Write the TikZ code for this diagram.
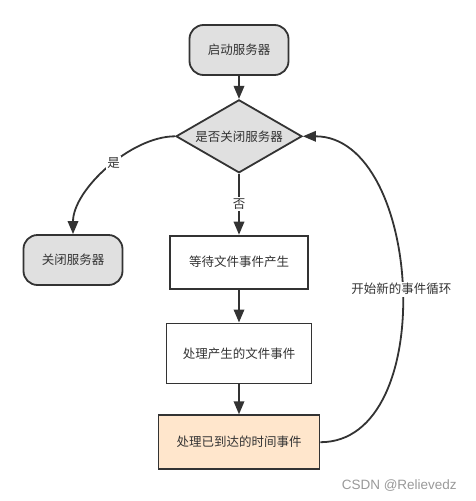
\documentclass[tikz,border=0pt]{standalone}
\usepackage{fontspec}
\newfontfamily\cjk{Noto Sans CJK SC}
\newfontfamily\marksans{Liberation Sans}
\usetikzlibrary{arrows.meta,shapes.geometric,positioning}
\definecolor{linegray}{HTML}{333333}
\definecolor{boxgray}{HTML}{E0E0E0}
\definecolor{boxpeach}{HTML}{FFE6CC}

\begin{document}
\begin{tikzpicture}[x=1pt, y=-1pt, >={Triangle[width=10.5pt,length=13pt]},
                    line width=1.8pt, color=linegray,
                    font=\cjk\fontsize{12.5}{14}\selectfont]
  \tikzstyle{term}=[rectangle, rounded corners=14pt, draw, fill=boxgray,
                    minimum width=99pt, minimum height=50pt]
  \tikzstyle{proc}=[rectangle, draw, fill=white]
  \tikzstyle{check}=[diamond, draw, fill=boxgray, aspect=1.7, inner sep=0pt,
                     minimum width=126pt, minimum height=73pt]
  \tikzstyle{tag}=[fill=white, inner sep=1.5pt]

  \useasboundingbox (0,0) rectangle (476,501);

	\node[term]	(start)	at (239,50)					{启动服务器};
	\node[check]	(ask)	[below=23pt of start]			{是否关闭服务器};
	\node[proc, minimum width=138pt, minimum height=53pt]
				(wait)	[below=61pt of ask]			{等待文件事件产生};
	\node[proc, minimum width=145pt, minimum height=60pt]
				(file)	[below=33pt of wait]			{处理产生的文件事件};
	\node[proc, fill=boxpeach, minimum width=161pt, minimum height=54pt]
				(timer)	[below=30pt of file]			{处理已到达的时间事件};
	\node[term]	(stop)	at (73,260)					{关闭服务器};

	\node[anchor=east, text=black!40, font=\marksans\fontsize{13.5}{15}\selectfont]
				(mark)	at (461,486)					{CSDN @Relievedz};

	\path[->]
			(start) edge  []						node {} (ask)
			(ask)   edge  []						node[tag] {否} (wait)
			(wait)  edge  []						node {} (file)
			(file)  edge  []						node {} (timer)
			(ask.west)  edge  [out=180, in=90, looseness=0.8]	node[tag, pos=0.45] {是} (stop.north)
			(timer.east) edge [out=0, in=0]			node[tag] {开始新的事件循环} (ask.east);

\end{tikzpicture}
\end{document}
